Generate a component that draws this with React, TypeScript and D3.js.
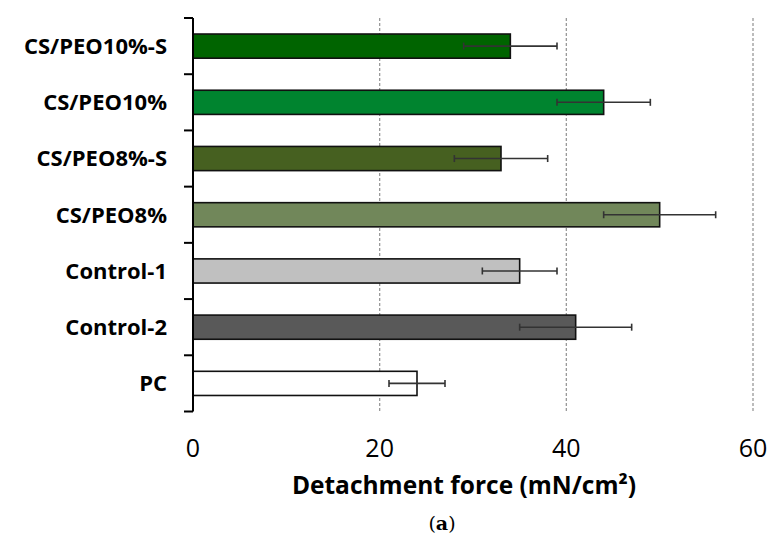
import React from 'react'
import * as d3 from 'd3'

const categories = ['CS/PEO10%-S', 'CS/PEO10%', 'CS/PEO8%-S', 'CS/PEO8%', 'Control-1', 'Control-2', 'PC']
const values = [34, 44, 33, 50, 35, 41, 24]
const errors = [5, 5, 5, 6, 4, 6, 3]
const colors = ['#006400', '#00842f', '#466020', '#71875a', '#c0c0c0', '#595959', '#ffffff']
const xTicks = [0, 20, 40, 60]

const width = 768
const height = 538
const font = "'Open Sans', Lato, sans-serif"

const App = () => {
  // scales
  const x = d3.scaleLinear().domain([0, 60]).range([193, 753])
  const y = d3.scaleBand().domain(categories).range([18, 411.5]).paddingInner(0.57).paddingOuter(0.285)
  const bands = d3.scaleBand().domain(categories).range([18, 411.5])
  const bh = y.bandwidth()
  const boundaries = [...categories.map((c) => bands(c) as number), 411.5]

  return (
    <div style={{ position: 'fixed', left: 0, top: 0 }}>
      <svg width={width} height={height} style={{ display: 'block', background: '#fff' }}>
        {/* grid lines */}
        {xTicks.slice(1).map((t) => (
          <line key={t} x1={x(t)} x2={x(t)} y1={18} y2={411.5} stroke="#999" strokeWidth={1.3} strokeDasharray="3,2" />
        ))}

        {/* bars */}
        {categories.map((c, i) => (
          <rect
            key={c}
            x={x(0)}
            y={y(c)}
            width={x(values[i]) - x(0)}
            height={bh}
            fill={colors[i]}
            stroke="#111"
            strokeWidth={1.6}
          />
        ))}

        {/* error bars */}
        {categories.map((c, i) => {
          const cy = (y(c) as number) + bh / 2
          const x1 = x(values[i] - errors[i])
          const x2 = x(values[i] + errors[i])
          return (
            <g key={c} stroke="#333" strokeWidth={1.6}>
              <line x1={x1} x2={x2} y1={cy} y2={cy} />
              <line x1={x1} x2={x1} y1={cy - 3.5} y2={cy + 3.5} />
              <line x1={x2} x2={x2} y1={cy - 3.5} y2={cy + 3.5} />
            </g>
          )
        })}

        {/* y axis */}
        <line x1={x(0)} x2={x(0)} y1={18} y2={411.5} stroke="#000" strokeWidth={2} />
        {boundaries.map((b, i) => (
          <line key={i} x1={184} x2={x(0)} y1={b} y2={b} stroke="#000" strokeWidth={2} />
        ))}
        {categories.map((c) => (
          <text
            key={c}
            x={167}
            y={(bands(c) as number) + bands.bandwidth() / 2}
            dy="0.36em"
            textAnchor="end"
            fontFamily={font}
            fontWeight="bold"
            fontSize={22}
          >
            {c}
          </text>
        ))}

        {/* x tick labels */}
        {xTicks.map((t) => (
          <text key={t} x={x(t)} y={457} textAnchor="middle" fontFamily={font} fontSize={25}>
            {t}
          </text>
        ))}

        <text x={464} y={494} textAnchor="middle" fontFamily={font} fontWeight="bold" fontSize={24.5}>
          Detachment force (mN/cm²)
        </text>

        <text x={442} y={530} textAnchor="middle" fontFamily="'DejaVu Serif', serif" fontSize={19}>
          (<tspan fontWeight="bold">a</tspan>)
        </text>
      </svg>
    </div>
  )
}

export default App
